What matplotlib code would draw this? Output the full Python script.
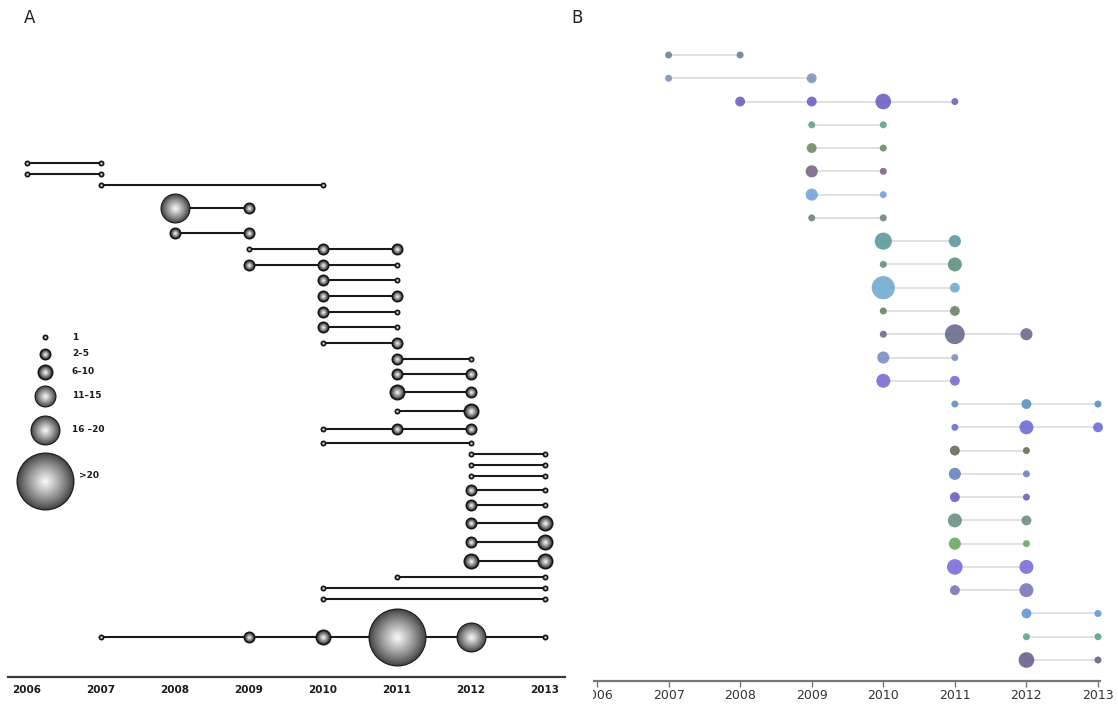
import numpy as np
import matplotlib.pyplot as plt
from matplotlib.transforms import Bbox, TransformedBbox

# ---- panel A: years active and size class of each cluster ----
a_years = [
    [2006, 2007], [2006, 2007], [2007, 2010], [2008, 2009], [2008, 2009],
    [2009, 2010, 2011], [2009, 2010, 2011], [2010, 2011], [2010, 2011],
    [2010, 2011], [2010, 2011], [2010, 2011], [2011, 2012], [2011, 2012],
    [2011, 2012], [2011, 2012], [2010, 2011, 2012], [2010, 2012],
    [2012, 2013], [2012, 2013], [2012, 2013], [2012, 2013], [2012, 2013],
    [2012, 2013], [2012, 2013], [2012, 2013], [2011, 2013], [2010, 2013],
    [2010, 2013], [2007, 2009, 2010, 2011, 2012, 2013],
]
a_class = [
    ['1', '1'], ['1', '1'], ['1', '1'], ['16-20', '2-5'], ['2-5', '2-5'],
    ['1', '2-5', '2-5'], ['2-5', '2-5', '1'], ['2-5', '1'], ['2-5', '2-5'],
    ['2-5', '1'], ['2-5', '1'], ['1', '2-5'], ['2-5', '1'], ['2-5', '2-5'],
    ['6-10', '2-5'], ['1', '6-10'], ['1', '2-5', '2-5'], ['1', '1'],
    ['1', '1'], ['1', '1'], ['1', '1'], ['2-5', '1'], ['2-5', '1'],
    ['2-5', '6-10'], ['2-5', '6-10'], ['6-10', '6-10'], ['1', '1'], ['1', '1'],
    ['1', '1'], ['1', '2-5', '6-10', '>20', '16-20', '1'],
]
legend_classes = ['1', '2-5', '6-10', '11-15', '16-20', '>20']
legend_labels = ['1', '2–5', '6–10', '11–15', '16 –20', '>20']
year_ticks = [2006, 2007, 2008, 2009, 2010, 2011, 2012, 2013]

# ---- panel B: years active, counts and colour of each cluster ----
b_years = [
    [2007, 2008], [2007, 2009], [2008, 2009, 2010, 2011], [2009, 2010],
    [2009, 2010], [2009, 2010], [2009, 2010], [2009, 2010], [2010, 2011],
    [2010, 2011], [2010, 2011], [2010, 2011], [2010, 2011, 2012],
    [2010, 2011], [2010, 2011], [2011, 2012, 2013], [2011, 2012, 2013],
    [2011, 2012], [2011, 2012], [2011, 2012], [2011, 2012], [2011, 2012],
    [2011, 2012], [2011, 2012], [2012, 2013], [2012, 2013], [2012, 2013],
]
b_counts = [
    [1, 1], [1, 2], [2, 2, 5, 1], [1, 1], [2, 1], [3, 1], [3, 1], [1, 1],
    [6, 3], [1, 4], [11, 2], [1, 2], [1, 8, 3], [3, 1], [4, 2], [1, 2, 1],
    [1, 4, 2], [2, 1], [3, 1], [2, 1], [4, 2], [3, 1], [5, 4], [2, 4],
    [2, 1], [1, 1], [5, 1],
]
b_colors = [
    '#6f819b', '#8393b5', '#6d60c2', '#5fa58a', '#6e8a63', '#7a6688',
    '#75a3da', '#718573', '#5e999d', '#5d9180', '#72aad0', '#6c8466',
    '#6b6c8c', '#7d8ec0', '#7c6bd1', '#5b91c1', '#6f6dd6', '#6c6c5c',
    '#6c84bf', '#6e5fc0', '#6c8f86', '#6da865', '#7b6ddc', '#7a78b8',
    '#5e98dd', '#5fa588', '#6c5f8e',
]

W, H = 1118, 704
class_r = {'1': 3, '2-5': 6, '6-10': 8, '11-15': 11, '16-20': 15, '>20': 29}
PT = 0.72  # points per pixel at dpi 100

fig = plt.figure(figsize=(W / 100, H / 100), dpi=100)


def ball(ax, x, y, r, z=3):
    # shaded sphere: dark rim, radial grey gradient to a white centre
    rim = 1.6 if r <= 8 else 1.0
    ax.scatter([x], [y], s=(2 * r * PT) ** 2, color='#151515', zorder=z,
               linewidths=0, clip_on=False)
    g0 = 0.22 if r <= 8 else 0.28
    n = 20
    for k in range(n):
        f = k / n
        rr = (r - rim) * (1 - f)
        g = g0 + (1 - g0) * f ** 0.9
        ax.scatter([x], [y], s=(2 * rr * PT) ** 2, color=(g, g, g),
                   zorder=z + 0.01 * (k + 1), linewidths=0, clip_on=False)


# ---------------- panel A ----------------
axA = fig.add_axes([8 / W, 1 - 677 / H, 557 / W, 677 / H])
rmax = [max(class_r[c] for c in row) for row in a_class]
u = [0.0]
for i in range(1, len(rmax)):
    a, b = rmax[i - 1], rmax[i]
    u.append(u[-1] + 6 + max(a, b) + 0.5 * min(a, b))
u = np.array(u)
k = (637 - 163) / (u[-1] - u[0])
axA.set_ylim(u[0] + (677 - 163) / k, u[0] - 163 / k)
axA.set_xlim(2006 - 19 / 74, 2013 + 20 / 74)

for yi, yrs, cls in zip(u, a_years, a_class):
    axA.plot([yrs[0], yrs[-1]], [yi, yi], color='#1a1a1a', lw=1.5, zorder=2,
             solid_capstyle='butt')
    for x, c in zip(yrs, cls):
        ball(axA, x, yi, class_r[c])

for s in ['top', 'left', 'right']:
    axA.spines[s].set_visible(False)
axA.spines['bottom'].set_color('#3a3a3a')
axA.spines['bottom'].set_linewidth(1.6)
axA.set_yticks([])
axA.set_xticks(year_ticks)
axA.set_xticklabels([str(t) for t in year_ticks], fontsize=7.5,
                    fontweight='bold', color='#1a1a1a')
axA.tick_params(axis='x', length=0, pad=6)
axA.patch.set_alpha(0)

# ---------------- panel B ----------------
axB = fig.add_axes([594 / W, 1 - 681 / H, 506 / W, 681 / H])
step = (660 - 55) / (len(b_years) - 1)
axB.set_ylim(len(b_years) - 1 + 21 / step, -55 / step)
axB.set_xlim(2006 - 3 / 71.57, 2013 + 2 / 71.57)
for i, (yrs, cnt, col) in enumerate(zip(b_years, b_counts, b_colors)):
    axB.plot([yrs[0], yrs[-1]], [i, i], color='#dcdcdc', lw=1.2, zorder=2)
    sizes = [(2 * 3.5 * np.sqrt(c) * PT) ** 2 for c in cnt]
    axB.scatter(yrs, [i] * len(yrs), s=sizes, color=col, alpha=0.9,
                linewidths=0, zorder=3, clip_on=False)

for s in ['top', 'left', 'right']:
    axB.spines[s].set_visible(False)
axB.spines['bottom'].set_color('#777777')
axB.spines['bottom'].set_linewidth(1.6)
axB.set_yticks([])
axB.set_xticks(year_ticks)
axB.set_xticklabels([str(t) for t in year_ticks], fontsize=9, color='#333333')
axB.tick_params(axis='x', length=4, width=1, color='#777777', pad=2)
axB.patch.set_alpha(0)
clip = TransformedBbox(Bbox([[593 / W, 0], [1, 1]]), fig.transFigure)
for lab in axB.get_xticklabels():
    lab.set_clip_box(clip)
    lab.set_clip_on(True)

# ---------------- overlay: legend and panel letters ----------------
axO = fig.add_axes([0, 0, 1, 1])
axO.set_xlim(0, W)
axO.set_ylim(H, 0)
axO.axis('off')
axO.patch.set_alpha(0)
leg_y = [337, 354, 372, 396, 430, 481]
for cl, lab, ly in zip(legend_classes, legend_labels, leg_y):
    ball(axO, 45, ly, class_r[cl])
    if cl == '>20':
        axO.text(79, ly - 6, lab, fontsize=6.5, fontweight='bold',
                 va='center', ha='left', color='#1a1a1a')
    else:
        axO.text(72, ly, lab, fontsize=6.5, fontweight='bold',
                 va='center', ha='left', color='#1a1a1a')

axO.text(30, 18, 'A', fontsize=12, ha='center', va='center', color='#222222')
axO.text(577, 18, 'B', fontsize=12, ha='center', va='center', color='#222222')

fig.savefig('out.png', dpi=100)
